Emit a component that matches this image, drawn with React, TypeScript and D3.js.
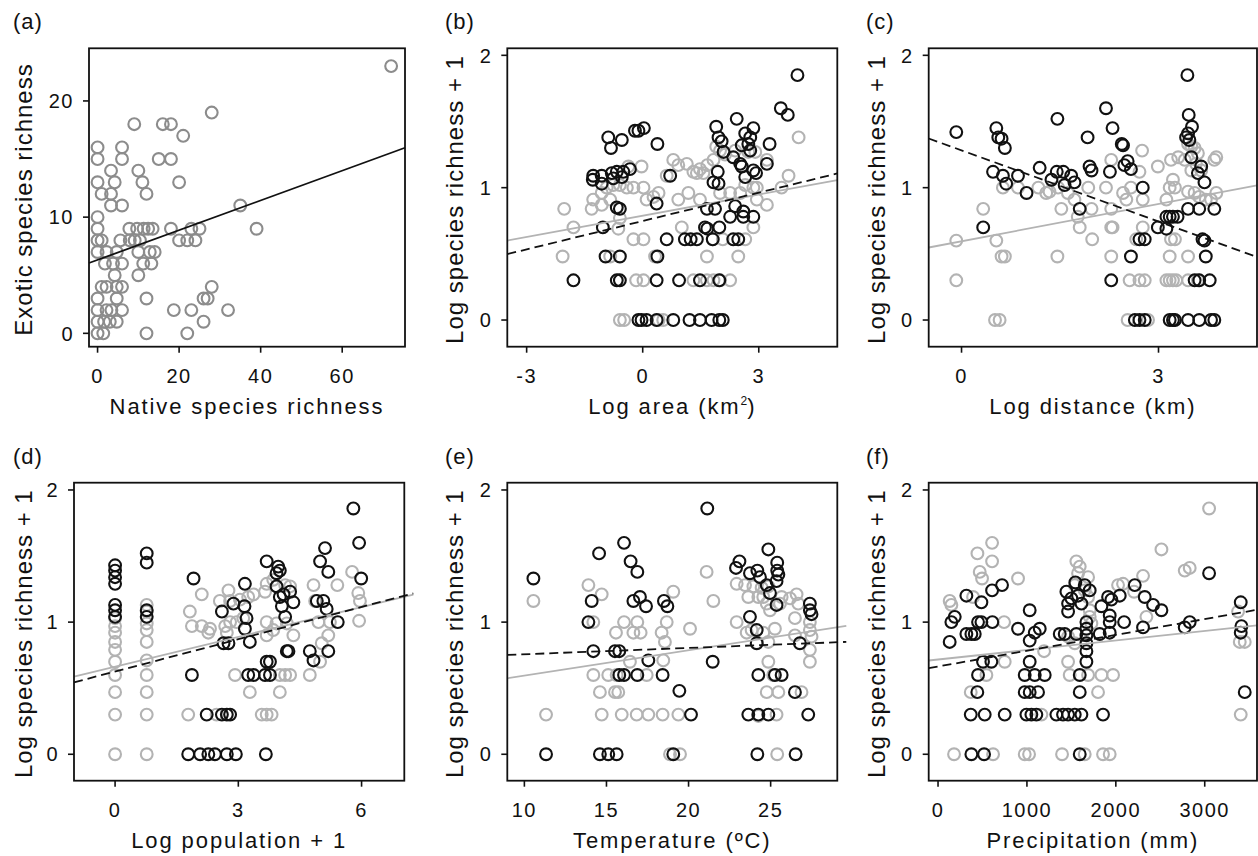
import * as d3 from "d3"

// (a) native vs exotic species richness per island
const richnessA: [number, number][] = [
  [72, 23], [28, 19], [9, 18], [16, 18], [18, 18], [21, 17], [0, 16], [6, 16], [0, 15], [6, 15],
  [15, 15], [18, 15], [3.3, 14], [10, 14], [0, 13], [4.2, 13], [11, 13], [20, 13], [1, 12], [3.3, 12],
  [12, 12], [3.3, 11], [6, 11], [35, 11], [0, 10], [0, 9], [7.8, 9], [9.7, 9], [11.3, 9], [12.4, 9],
  [13.5, 9], [18, 9], [23, 9], [25, 9], [39, 9], [0, 8], [1, 8], [5.6, 8], [7.9, 8], [9.1, 8],
  [10.4, 8], [20, 8], [22, 8], [24, 8], [0, 7], [2.2, 7], [4.7, 7], [10, 7], [12.8, 7], [14, 7],
  [1.8, 6], [3.8, 6], [6, 6], [11.2, 6], [13.2, 6], [4.2, 5], [10, 5], [1, 4], [2.2, 4], [4.7, 4],
  [6, 4], [28, 4], [0, 3], [4.7, 3], [12, 3], [26, 3], [27, 3], [0, 2], [2.2, 2], [3.4, 2],
  [6, 2], [18.7, 2], [23, 2], [32, 2], [0, 1], [1.6, 1], [3, 1], [4.7, 1], [26, 1], [0, 0],
  [1.4, 0], [12, 0], [22, 0],
]

// (b) log area
const nativeB: [number, number][] = [
  [4.0, 1.85], [3.57, 1.6], [3.75, 1.55], [2.43, 1.52], [1.9, 1.46], [2.86, 1.45], [0.03, 1.45], [-0.2, 1.43],
  [-0.11, 1.43], [-0.89, 1.38], [-0.54, 1.36], [2.65, 1.41], [2.78, 1.38], [1.96, 1.38], [2.04, 1.35], [-0.82, 1.3],
  [0.38, 1.33], [3.28, 1.33], [2.56, 1.32], [2.73, 1.33], [2.78, 1.28], [2.09, 1.27], [2.34, 1.23], [2.52, 1.18],
  [2.56, 1.16], [3.21, 1.18], [2.86, 1.13], [2.93, 1.11], [2.65, 1.08], [1.94, 1.12], [1.96, 1.03], [1.83, 1.04],
  [-1.28, 1.09], [-1.29, 1.06], [-1.06, 1.09], [-0.8, 1.11], [-0.67, 1.12], [-0.5, 1.12], [-0.33, 1.14], [-0.54, 1.08],
  [-0.76, 1.07], [-1.06, 1.03], [0.71, 1.09], [-0.67, 0.85], [-0.59, 0.84], [0.36, 0.88], [1.66, 0.84], [1.87, 0.84],
  [2.39, 0.86], [2.6, 0.82], [2.26, 0.78], [2.6, 0.78], [2.86, 0.78], [-1.03, 0.7], [1.61, 0.7], [1.67, 0.69],
  [1.98, 0.7], [0.62, 0.61], [1.09, 0.61], [1.24, 0.61], [1.4, 0.61], [1.81, 0.61], [2.34, 0.61], [2.47, 0.61],
  [-0.96, 0.48], [-0.59, 0.48], [0.38, 0.48], [-1.79, 0.3], [-0.67, 0.3], [-0.59, 0.3], [0.36, 0.3], [0.94, 0.3],
  [1.48, 0.3], [1.98, 0.3], [-0.11, 0], [-0.03, 0], [0.1, 0], [0.36, 0], [0.79, 0], [1.21, 0],
  [1.48, 0], [1.78, 0], [1.98, 0], [2.07, 0],
]
const exoticB: [number, number][] = [
  [4.03, 1.38], [3.77, 1.09], [3.59, 1.0], [3.21, 0.87], [3.21, 1.21], [2.91, 1.27], [2.73, 1.27], [2.39, 1.28],
  [2.13, 1.25], [1.9, 1.31], [2.0, 1.28], [1.83, 1.21], [1.67, 1.17], [1.48, 1.14], [1.31, 1.12], [1.14, 1.18],
  [0.92, 1.17], [0.79, 1.21], [0.62, 1.09], [1.57, 1.11], [1.4, 1.11], [-0.03, 1.16], [-0.37, 1.16], [2.65, 1.02],
  [2.86, 1.0], [2.95, 1.0], [2.95, 0.91], [2.52, 0.96], [2.26, 0.96], [2.0, 0.96], [1.48, 0.91], [1.18, 0.96],
  [0.92, 0.91], [0.41, 0.96], [0.28, 0.93], [0.02, 1.0], [-0.24, 1.0], [-0.41, 1.0], [-0.59, 1.02], [-0.76, 1.02],
  [-0.93, 1.0], [-1.28, 0.91], [-1.32, 0.84], [-1.06, 0.87], [-0.84, 0.91], [-1.06, 0.96], [-0.59, 0.77], [0.1, 0.91],
  [-2.03, 0.84], [-1.79, 0.7], [-0.63, 0.69], [1.01, 0.7], [2.86, 0.7], [-0.24, 0.61], [0.02, 0.61], [1.81, 0.61],
  [2.07, 0.61], [2.65, 0.61], [-2.07, 0.48], [-0.84, 0.48], [0.32, 0.48], [1.66, 0.48], [2.47, 0.48], [-0.17, 0.3],
  [0.02, 0.3], [1.31, 0.3], [1.66, 0.3], [1.83, 0.3], [2.0, 0.3], [2.26, 0.3], [-0.59, 0], [-0.48, 0],
  [0.41, 0], [0.53, 0],
]

// (c) log distance
const nativeC: [number, number][] = [
  [3.44, 1.85], [3.46, 1.55], [3.51, 1.46], [3.45, 1.41], [3.42, 1.38], [3.47, 1.36], [2.2, 1.6], [2.3, 1.45],
  [1.46, 1.52], [-0.08, 1.42], [0.53, 1.45], [0.56, 1.38], [0.61, 1.37], [0.66, 1.3], [1.92, 1.38], [2.44, 1.33],
  [2.46, 1.32], [0.48, 1.12], [0.63, 1.09], [0.68, 1.03], [0.86, 1.09], [0.99, 0.96], [1.19, 1.15], [1.37, 1.06],
  [1.45, 1.12], [1.55, 1.12], [1.67, 1.09], [1.72, 1.04], [1.57, 1.02], [1.95, 1.16], [1.98, 1.13], [2.26, 1.12],
  [2.48, 1.17], [2.53, 1.2], [2.58, 1.14], [2.76, 1.0], [1.8, 0.84], [0.33, 0.7], [3.12, 0.78], [3.17, 0.78],
  [3.22, 0.78], [3.29, 0.78], [2.99, 0.7], [3.12, 0.69], [2.71, 0.61], [2.79, 0.61], [3.67, 0.61], [3.7, 0.6],
  [3.45, 0.84], [3.62, 0.84], [3.85, 0.84], [3.65, 1.16], [3.6, 1.11], [3.7, 1.04], [3.5, 1.23], [2.58, 0.48],
  [3.72, 0.48], [2.28, 0.3], [3.55, 0.3], [3.62, 0.3], [3.78, 0.3], [2.64, 0], [2.71, 0], [2.79, 0],
  [3.17, 0], [3.22, 0], [3.25, 0], [3.45, 0], [3.62, 0], [3.8, 0], [3.85, 0],
]
const exoticC: [number, number][] = [
  [-0.08, 0.6], [-0.08, 0.3], [0.33, 0.84], [0.53, 0.6], [0.61, 0.48], [0.66, 0.48], [0.51, 0], [0.58, 0],
  [0.63, 1.0], [0.86, 1.0], [1.17, 1.0], [1.29, 0.96], [1.34, 0.97], [1.47, 1.0], [1.52, 0.84], [1.62, 0.96],
  [1.72, 0.91], [1.77, 0.78], [1.8, 0.7], [1.93, 1.0], [1.98, 0.84], [1.99, 0.61], [1.46, 0.48], [2.2, 1.0],
  [2.28, 1.21], [2.28, 0.84], [2.28, 0.7], [2.3, 0.7], [2.28, 0.48], [2.46, 0.96], [2.51, 0.91], [2.58, 1.0],
  [2.71, 1.12], [2.75, 1.28], [2.76, 0.91], [2.76, 0.7], [2.66, 0.61], [2.56, 0.3], [2.71, 0.3], [2.79, 0.3],
  [2.53, 0], [2.84, 0], [2.99, 1.16], [3.12, 0.91], [3.17, 1.0], [3.19, 1.21], [3.22, 1.06], [3.25, 1.0],
  [3.19, 0.61], [3.25, 0.61], [3.17, 0.48], [3.12, 0.3], [3.17, 0.3], [3.22, 0.3], [3.27, 0.3], [3.45, 0.3],
  [3.6, 0.3], [3.45, 0.48], [3.3, 1.23], [3.4, 1.21], [3.45, 0.97], [3.55, 0.96], [3.62, 0.93], [3.72, 0.91],
  [3.8, 0.91], [3.88, 0.96], [3.88, 1.23], [3.85, 1.21], [3.55, 1.3], [3.6, 1.26], [3.57, 1.18], [3.5, 1.13],
  [3.65, 1.13], [3.45, 1.33], [3.5, 1.31],
]

// (d) log population + 1
const nativeD: [number, number][] = [
  [5.8, 1.86], [5.94, 1.6], [5.11, 1.56], [4.99, 1.46], [5.19, 1.38], [5.99, 1.33], [3.69, 1.46], [3.97, 1.42],
  [4.01, 1.39], [3.93, 1.37], [1.91, 1.33], [3.16, 1.29], [3.93, 1.27], [4.1, 1.21], [4.26, 1.23], [4.34, 1.15],
  [4.01, 1.19], [4.06, 1.12], [4.14, 1.04], [2.88, 1.14], [2.6, 1.08], [3.15, 1.12], [3.2, 1.03], [3.16, 0.95],
  [4.91, 1.16], [5.07, 1.16], [5.15, 1.1], [5.42, 1.0], [0, 1.43], [0, 1.39], [0, 1.34], [0, 1.29],
  [0, 1.13], [0, 1.09], [0, 1.04], [0.77, 1.52], [0.77, 1.45], [0.77, 1.09], [0.77, 1.04], [2.64, 0.84],
  [2.76, 0.84], [3.28, 0.85], [4.74, 0.78], [4.83, 0.71], [5.19, 0.78], [4.18, 0.78], [4.22, 0.78], [3.69, 0.7],
  [3.77, 0.7], [1.87, 0.6], [3.24, 0.6], [3.37, 0.6], [3.65, 0.6], [3.77, 0.6], [2.23, 0.3], [2.6, 0.3],
  [2.72, 0.3], [2.8, 0.3], [1.78, 0], [2.07, 0], [2.27, 0], [2.43, 0], [2.72, 0], [2.94, 0],
  [3.67, 0],
]
const exoticD: [number, number][] = [
  [5.77, 1.38], [5.92, 1.22], [5.96, 1.16], [5.94, 1.01], [5.41, 1.28], [4.83, 1.28], [4.87, 1.16], [4.95, 1.0],
  [5.23, 1.0], [5.19, 0.9], [5.03, 0.84], [4.99, 0.7], [4.74, 0.6], [4.34, 0.9], [4.18, 0.99], [3.93, 0.99],
  [3.85, 0.94], [3.69, 1.0], [3.69, 0.9], [3.85, 1.32], [3.69, 1.29], [3.65, 1.23], [4.14, 1.28], [4.26, 1.27],
  [3.37, 1.21], [3.24, 1.19], [3.04, 1.17], [2.76, 1.24], [2.8, 1.16], [2.55, 1.16], [2.11, 1.21], [1.82, 1.08],
  [1.87, 0.97], [2.11, 0.97], [2.31, 0.95], [2.27, 0.92], [2.68, 0.97], [2.8, 1.0], [2.96, 1.0], [3.12, 1.03],
  [2.72, 0.92], [2.92, 0.6], [4.01, 0.6], [4.14, 0.6], [4.26, 0.6], [3.28, 0.47], [4.01, 0.47], [1.78, 0.3],
  [2.47, 0.3], [3.57, 0.3], [3.69, 0.3], [3.81, 0.3], [0, 1.03], [0, 0.97], [0, 0.92], [0, 0.85],
  [0, 0.79], [0, 0.7], [0, 0.6], [0, 0.47], [0, 0.3], [0, 0], [0.77, 1.13], [0.77, 1.08],
  [0.77, 0.99], [0.77, 0.94], [0.77, 0.85], [0.77, 0.71], [0.77, 0.6], [0.77, 0.47], [0.77, 0.3], [0.77, 0],
]

// (e) temperature
const nativeE: [number, number][] = [
  [21.14, 1.86], [10.55, 1.33], [11.32, 0], [14.55, 1.52], [16.07, 1.6], [16.47, 1.46], [16.88, 1.38], [17.04, 1.19],
  [16.64, 1.16], [17.41, 1.12], [14.1, 1.16], [13.9, 1.0], [14.2, 0.78], [15.52, 0.78], [15.78, 0.78], [17.55, 0.71],
  [15.78, 0.6], [16.07, 0.6], [16.88, 0.6], [18.42, 0.6], [18.5, 1.16], [18.71, 1.12], [21.47, 0.7], [19.44, 0.48],
  [20.15, 0.3], [14.6, 0], [15.11, 0], [15.62, 0], [19.07, 0], [22.89, 1.41], [23.1, 1.46], [24.86, 1.55],
  [24.19, 1.39], [23.74, 1.37], [24.35, 1.34], [25.4, 1.45], [25.4, 1.39], [25.47, 1.36], [25.36, 1.31], [24.76, 1.28],
  [24.96, 1.22], [23.74, 1.04], [25.36, 1.13], [24.15, 0.94], [24.15, 0.84], [26.78, 0.84], [27.39, 1.14], [27.39, 1.09],
  [27.49, 1.06], [24.25, 0.6], [25.26, 0.6], [25.67, 0.6], [26.48, 0.47], [23.64, 0.3], [24.25, 0.3], [24.86, 0.3],
  [27.29, 0.3], [24.19, 0], [26.52, 0],
]
const exoticE: [number, number][] = [
  [10.55, 1.16], [11.32, 0.3], [13.9, 1.28], [14.71, 1.21], [14.2, 1.0], [15.58, 0.92], [16.07, 1.0], [16.64, 0.92],
  [16.88, 1.0], [17.08, 0.92], [18.36, 0.92], [18.67, 1.0], [18.56, 0.85], [19.07, 1.23], [20.09, 0.95], [21.1, 1.38],
  [21.51, 1.16], [16.43, 0.7], [18.46, 0.71], [14.2, 0.6], [15.11, 0.6], [15.62, 0.6], [17.45, 0.6], [14.6, 0.47],
  [15.52, 0.47], [15.72, 0.47], [14.71, 0.3], [15.93, 0.3], [16.84, 0.3], [17.55, 0.3], [18.42, 0.3], [19.38, 0.3],
  [18.87, 0], [19.48, 0], [22.93, 1.29], [23.44, 1.28], [22.93, 1.0], [23.64, 1.19], [23.95, 1.27], [24.25, 1.19],
  [24.55, 1.19], [24.45, 1.26], [24.86, 1.27], [24.76, 1.14], [24.96, 1.09], [25.57, 1.14], [25.67, 1.19], [26.18, 1.18],
  [26.58, 1.21], [26.68, 1.14], [26.48, 1.03], [25.26, 0.95], [24.55, 0.92], [23.84, 0.94], [23.54, 0.92], [24.86, 0.85],
  [24.86, 0.7], [26.48, 0.9], [27.39, 1.0], [27.39, 0.94], [27.49, 0.89], [27.39, 0.79], [27.39, 0.7], [25.16, 0.6],
  [24.76, 0.47], [25.47, 0.47], [26.88, 0.47], [25.36, 0.3], [24.25, 0.29], [25.4, 0],
]

// (f) precipitation
const nativeF: [number, number][] = [
  [131, 0.85], [150, 1.0], [188, 1.04], [319, 1.2], [319, 0.91], [413, 0.91], [375, 0.91], [488, 1.0],
  [450, 1.0], [488, 1.15], [608, 1.24], [720, 1.28], [611, 1.0], [506, 0.7], [600, 0.7], [450, 0.6],
  [442, 0.47], [368, 0.3], [525, 0.3], [750, 0.3], [375, 0], [518, 0], [900, 0.95], [1031, 1.09],
  [1031, 0.86], [1088, 0.92], [1144, 0.95], [1031, 0.7], [975, 0.6], [1088, 0.6], [1200, 0.6], [975, 0.47],
  [1031, 0.47], [1125, 0.47], [994, 0.3], [1050, 0.3], [1106, 0.3], [1331, 0.3], [1406, 0.3], [1463, 0.3],
  [1538, 0.3], [1613, 0.3], [1856, 0.3], [1594, 0], [1369, 0.91], [1425, 0.91], [1556, 0.91], [1444, 1.23],
  [1463, 1.14], [1463, 1.08], [1500, 1.18], [1545, 1.3], [1575, 1.2], [1613, 1.14], [1650, 1.28], [1706, 1.24],
  [1669, 1.0], [1669, 0.95], [1669, 0.9], [1669, 0.84], [1669, 0.78], [1669, 0.7], [1594, 0.6], [1594, 0.47],
  [1819, 0.91], [1838, 1.12], [1913, 1.19], [1931, 1.05], [1931, 1.0], [1931, 0.92], [1950, 1.17], [2044, 1.2],
  [2093, 1.0], [2213, 1.28], [2325, 1.19], [2419, 1.13], [2513, 1.09], [2306, 0.96], [2775, 0.96], [2831, 1.0],
  [3049, 1.37], [3405, 1.15], [3413, 0.97], [3405, 0.92], [3450, 0.47],
]
const exoticF: [number, number][] = [
  [131, 1.16], [150, 1.13], [180, 0], [443, 1.52], [608, 1.6], [608, 1.46], [469, 1.38], [495, 1.33],
  [394, 1.19], [900, 1.33], [743, 1.0], [750, 0.7], [544, 0.6], [368, 0.47], [619, 0], [975, 0],
  [1024, 0], [1193, 0.78], [1395, 0], [1650, 0], [1856, 0], [1931, 0], [1463, 0.7], [1481, 0.6],
  [1688, 0.6], [1838, 0.6], [1969, 0.6], [1800, 0.47], [1163, 0.3], [1556, 1.46], [1594, 1.42], [1575, 1.37],
  [1688, 1.34], [1538, 1.28], [1650, 1.24], [1688, 1.19], [1706, 1.09], [1706, 1.04], [1725, 0.99], [1463, 0.89],
  [1538, 0.84], [2025, 1.28], [2081, 1.29], [2205, 1.23], [2306, 1.35], [2344, 1.04], [2513, 1.55], [2775, 1.39],
  [2831, 1.41], [3049, 1.86], [3375, 1.08], [3394, 0.85], [3450, 0.85], [3405, 0.3],
]

// fitted lines: intercept, slope
const fitA = [6.32, 0.128]
const fitNative: Record<string, number[]> = {
  b: [0.748, 0.0714], c: [1.282, -0.179], d: [0.626, 0.0815], e: [0.709, 0.00478], f: [0.664, 0.0001197],
}
const fitExotic: Record<string, number[]> = {
  b: [0.788, 0.0536], c: [0.595, 0.094], d: [0.663, 0.0752], e: [0.403, 0.0192], f: [0.717, 0.0000718],
}

const panelLabels = ["(a)", "(b)", "(c)", "(d)", "(e)", "(f)"]
const xTitles = ["Native species richness", "Log area (km", "Log distance (km)", "Log population + 1", "Temperature (ºC)", "Precipitation (mm)"]
const yTitles = ["Exotic species richness", "Log species richness + 1", "Log species richness + 1", "Log species richness + 1", "Log species richness + 1", "Log species richness + 1"]
const xTickSets = [[0, 20, 40, 60], [-3, 0, 3], [0, 3], [0, 3, 6], [10, 15, 20, 25], [0, 1000, 2000, 3000]]
const yTickSets = [[0, 10, 20], [0, 1, 2], [0, 1, 2], [0, 1, 2], [0, 1, 2], [0, 1, 2]]
const xDomains = [[-2.1, 75.4], [-3.5, 5.03], [-0.5, 4.5], [-1.0, 7.04], [8.96, 29.06], [-105, 3588]]
const yDomains = [[-1.15, 24.53], [-0.2015, 2.053], [-0.2015, 2.053], [-0.2, 2.055], [-0.2, 2.055], [-0.2, 2.055]]

const FONT = '"Liberation Sans", Arial, Helvetica, sans-serif'
const BLACK = "#111"
const LIGHT = "#b3b3b3"
const MID = "#8c8c8c"

// frame boxes [left, right, top, bottom]
const frames = [
  [89, 405, 48.3, 346.7],
  [507.3, 837.3, 48.3, 346.7],
  [928.7, 1257, 48.3, 346.7],
  [74, 404.3, 482.7, 780.7],
  [507.3, 837.3, 482.7, 780.7],
  [928.7, 1257, 482.7, 780.7],
]
const labelX = [13, 445, 866, 13, 445, 866]
const yTitleX = [32, 463, 884.5, 31.7, 463, 884.7]
const overhang = [0, 0, 0, 9, 9, 0]

function Panel({ i }: { i: number }) {
  const [left, right, top, bottom] = frames[i]
  const x = d3.scaleLinear().domain(xDomains[i]).range([left, right])
  const y = d3.scaleLinear().domain(yDomains[i]).range([bottom, top])
  const id = "abcdef"[i]
  const x0 = xDomains[i][0]
  const x1 = x.invert(right + overhang[i])
  const line = (fit: number[]) => ({
    x1: x(x0), y1: y(fit[0] + fit[1] * x0), x2: x(x1), y2: y(fit[0] + fit[1] * x1),
  })
  const circles = (pts: [number, number][], color: string) =>
    pts.map((d, k) => (
      <circle key={color + k} cx={x(d[0])} cy={y(d[1])} r={5.9} fill="none" stroke={color} strokeWidth={2.1} />
    ))

  let marks
  if (i === 0) {
    const l = line(fitA)
    marks = (
      <>
        {circles(richnessA, MID)}
        <line {...l} stroke={BLACK} strokeWidth={1.8} />
      </>
    )
  } else {
    const nat = { b: nativeB, c: nativeC, d: nativeD, e: nativeE, f: nativeF }[id]!
    const exo = { b: exoticB, c: exoticC, d: exoticD, e: exoticE, f: exoticF }[id]!
    const ln = line(fitNative[id])
    const le = line(fitExotic[id])
    marks = (
      <>
        {circles(exo, LIGHT)}
        {circles(nat, BLACK)}
        <line {...le} stroke={LIGHT} strokeWidth={1.8} />
        <line {...ln} stroke={BLACK} strokeWidth={1.8} strokeDasharray="9,5" />
      </>
    )
  }

  const midY = (top + bottom) / 2 + 2
  return (
    <g>
      <text x={labelX[i]} y={top - 19} fontSize={22} letterSpacing={1}>{panelLabels[i]}</text>
      {marks}
      <rect x={left} y={top} width={right - left} height={bottom - top} fill="none" stroke={BLACK} strokeWidth={1.8} />
      {xTickSets[i].map((t) => (
        <g key={"x" + t}>
          <line x1={x(t)} x2={x(t)} y1={bottom} y2={bottom + 6} stroke={BLACK} strokeWidth={1.6} />
          <text x={x(t)} y={bottom + 36} textAnchor="middle" fontSize={20} letterSpacing={1.5}>{t}</text>
        </g>
      ))}
      {yTickSets[i].map((t) => (
        <g key={"y" + t}>
          <line x1={left - 6} x2={left} y1={y(t)} y2={y(t)} stroke={BLACK} strokeWidth={1.6} />
          <text x={left - 15} y={y(t)} dy="0.36em" textAnchor="end" fontSize={20} letterSpacing={1.5}>{t}</text>
        </g>
      ))}
      <text x={(left + right) / 2} y={bottom + 67} textAnchor="middle" fontSize={22} letterSpacing={1.9}>
        {xTitles[i]}
        {i === 1 && (
          <>
            <tspan fontSize={12} dy={-9} letterSpacing={0}>2</tspan>
            <tspan dy={9}>)</tspan>
          </>
        )}
      </text>
      <text
        transform={`translate(${yTitleX[i]},${midY}) rotate(-90)`}
        textAnchor="middle"
        fontSize={24}
        letterSpacing={1}
      >
        {yTitles[i]}
      </text>
    </g>
  )
}

export default function App() {
  return (
    <svg
      width={1258}
      height={856}
      style={{ position: "absolute", left: 0, top: 0, background: "#fff" }}
      fontFamily={FONT}
      fill={BLACK}
    >
      <rect width={1258} height={856} fill="#fff" />
      {panelLabels.map((_, i) => (
        <Panel key={i} i={i} />
      ))}
    </svg>
  )
}
